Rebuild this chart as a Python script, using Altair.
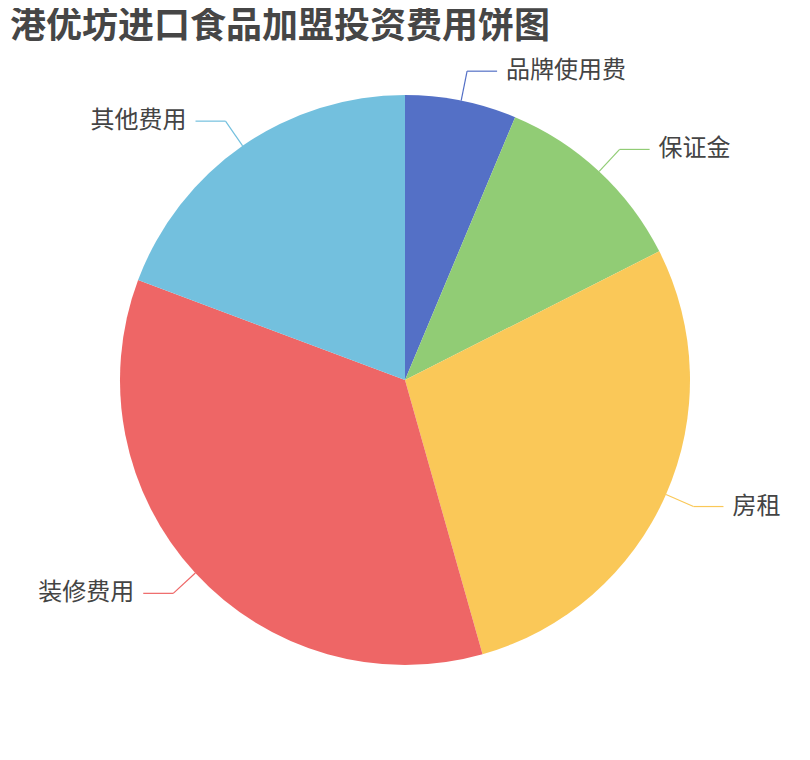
import altair as alt
import pandas as pd

title_text = "港优坊进口食品加盟投资费用饼图"
categories = ["品牌使用费", "保证金", "房租", "装修费用", "其他费用"]
values = [1.8, 3.2, 8, 10, 5.5]
colors = ["#5470c6", "#91cc75", "#fac858", "#ee6666", "#73c0de"]

TOP = 12
CY = 372 - TOP
W, H = 794, 2 * CY
CX = W / 2
R = 285
R2 = 315
HSEG = 30
GAP = 9

df = pd.DataFrame({"category": categories, "value": values, "order": list(range(len(categories)))})

color = alt.Color("category:N", scale=alt.Scale(domain=categories, range=colors), legend=None)

base = alt.Chart(df)

pie = base.mark_arc(outerRadius=R).encode(
    theta=alt.Theta("value:Q", stack=True),
    order=alt.Order("order:Q"),
    color=color,
)

geo = base.transform_joinaggregate(
    total="sum(value)"
).transform_window(
    cum="sum(value)", sort=[alt.SortField("order")], frame=[None, 0]
).transform_calculate(
    mid="(datum.cum - datum.value/2) / datum.total * 2 * PI",
).transform_calculate(
    s="sin(datum.mid)", c="cos(datum.mid)"
).transform_calculate(
    x0=f"{CX} + {R} * datum.s",
    y0=f"{CY} - {R} * datum.c",
    x1=f"{CX} + {R2} * datum.s",
    y1=f"{CY} - {R2} * datum.c",
).transform_calculate(
    x2=f"datum.x1 + (datum.s >= 0 ? {HSEG} : -{HSEG})",
).transform_calculate(
    tx=f"datum.x2 + (datum.s >= 0 ? {GAP} : -{GAP})",
    side="datum.s >= 0 ? 'R' : 'L'",
)

X = lambda f: alt.X(f, type="quantitative", scale=None, axis=None)
Y = lambda f: alt.Y(f, type="quantitative", scale=None, axis=None)

rule1 = geo.mark_rule(strokeWidth=1.2).encode(
    x=X("x0"), y=Y("y0"), x2="x1", y2="y1", color=color
)
rule2 = geo.mark_rule(strokeWidth=1.2).encode(
    x=X("x1"), y=Y("y1"), x2="x2", y2="y1", color=color
)

label_kw = dict(font="Noto Sans CJK SC", fontSize=24, color="#444444", baseline="middle")
text_r = geo.transform_filter("datum.side == 'R'").mark_text(align="left", **label_kw).encode(
    x=X("tx"), y=Y("y1"), text="category:N"
)
text_l = geo.transform_filter("datum.side == 'L'").mark_text(align="right", **label_kw).encode(
    x=X("tx"), y=Y("y1"), text="category:N"
)

title = alt.Chart(pd.DataFrame({"t": [title_text]})).mark_text(
    align="left", baseline="middle", font="Noto Sans CJK SC", fontSize=36,
    fontWeight="bold", color="#464646"
).encode(x=alt.value(2), y=alt.value(19 - TOP), text="t:N")

chart = alt.layer(pie, rule1, rule2, text_r, text_l, title).properties(
    width=W, height=H,
    padding={"left": 0, "top": TOP, "right": 0, "bottom": 0},
    autosize=alt.AutoSizeParams(type="none"),
).configure_view(stroke=None)

chart.save("out.html", embed_options={"renderer": "svg", "actions": False})
